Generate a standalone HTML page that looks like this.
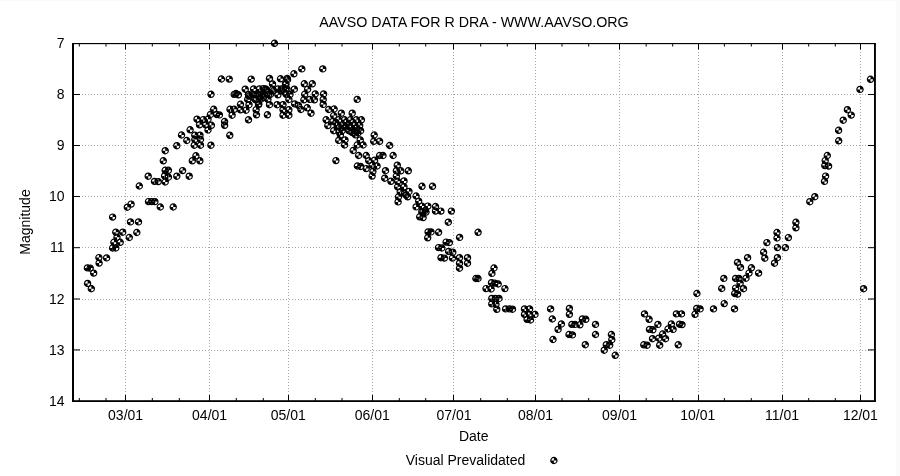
<!DOCTYPE html>
<html><head><meta charset="utf-8"><style>html,body{margin:0;padding:0;background:#fff;overflow:hidden}svg{display:block;will-change:transform}</style></head>
<body><svg width="900" height="476" viewBox="0 0 900 476">
<rect x="0" y="0" width="900" height="476" fill="#fff"/><rect x="0" y="0" width="900" height="1" fill="#fafafa"/><rect x="896" y="0" width="4" height="476" fill="#fafafa"/><path d="M125.5 43V401 M209.5 43V401 M288.5 43V401 M372.5 43V401 M453.5 43V401 M535.5 43V401 M619.5 43V401 M698.5 43V401 M782.5 43V401 M860.5 43V401 M73 94.5H875 M73 145.5H875 M73 196.5H875 M73 247.5H875 M73 299.5H875 M73 350.5H875" stroke="#a8a8a8" stroke-width="1" stroke-dasharray="1 2" fill="none"/><path d="M125.5 401v-6M125.5 43.5v6 M209.5 401v-6M209.5 43.5v6 M288.5 401v-6M288.5 43.5v6 M372.5 401v-6M372.5 43.5v6 M453.5 401v-6M453.5 43.5v6 M535.5 401v-6M535.5 43.5v6 M619.5 401v-6M619.5 43.5v6 M698.5 401v-6M698.5 43.5v6 M782.5 401v-6M782.5 43.5v6 M860.5 401v-6M860.5 43.5v6 M79.3 401v-3M79.3 43.5v3 M106.0 401v-3M106.0 43.5v3 M152.3 401v-3M152.3 43.5v3 M179.3 401v-3M179.3 43.5v3 M236.3 401v-3M236.3 43.5v3 M263.3 401v-3M263.3 43.5v3 M315.3 401v-3M315.3 43.5v3 M342.0 401v-3M342.0 43.5v3 M399.3 401v-3M399.3 43.5v3 M425.7 401v-3M425.7 43.5v3 M480.7 401v-3M480.7 43.5v3 M507.3 401v-3M507.3 43.5v3 M562.0 401v-3M562.0 43.5v3 M588.7 401v-3M588.7 43.5v3 M646.2 401v-3M646.2 43.5v3 M672.7 401v-3M672.7 43.5v3 M724.4 401v-3M724.4 43.5v3 M751.3 401v-3M751.3 43.5v3 M808.7 401v-3M808.7 43.5v3 M835.3 401v-3M835.3 43.5v3 M73 94.5h7M875 94.5h-7 M73 145.5h7M875 145.5h-7 M73 196.5h7M875 196.5h-7 M73 247.7h7M875 247.7h-7 M73 299.0h7M875 299.0h-7 M73 349.9h7M875 349.9h-7" stroke="#000" stroke-width="1" fill="none"/><rect x="72" y="43" width="804" height="1.15" fill="#000"/><rect x="72" y="400.2" width="804" height="1.8" fill="#000"/><rect x="72" y="43" width="2" height="359" fill="#000"/><rect x="874" y="43" width="1.9" height="359" fill="#000"/><g font-family="Liberation Sans, sans-serif" fill="#000"><text x="474" y="26.7" text-anchor="middle" font-size="14.25">AAVSO DATA FOR R DRA - WWW.AAVSO.ORG</text><text x="64.6" y="48.0" text-anchor="end" font-size="14">7</text><text x="64.6" y="99.1" text-anchor="end" font-size="14">8</text><text x="64.6" y="150.1" text-anchor="end" font-size="14">9</text><text x="64.6" y="201.1" text-anchor="end" font-size="14">10</text><text x="64.6" y="252.3" text-anchor="end" font-size="14">11</text><text x="64.6" y="303.6" text-anchor="end" font-size="14">12</text><text x="64.6" y="354.5" text-anchor="end" font-size="14">13</text><text x="64.6" y="405.6" text-anchor="end" font-size="14">14</text><text x="125.6" y="420.2" text-anchor="middle" font-size="14">03/01</text><text x="209.6" y="420.2" text-anchor="middle" font-size="14">04/01</text><text x="288.3" y="420.2" text-anchor="middle" font-size="14">05/01</text><text x="372.3" y="420.2" text-anchor="middle" font-size="14">06/01</text><text x="454.0" y="420.2" text-anchor="middle" font-size="14">07/01</text><text x="535.5" y="420.2" text-anchor="middle" font-size="14">08/01</text><text x="619.6" y="420.2" text-anchor="middle" font-size="14">09/01</text><text x="697.7" y="420.2" text-anchor="middle" font-size="14">10/01</text><text x="782.0" y="420.2" text-anchor="middle" font-size="14">11/01</text><text x="860.4" y="420.2" text-anchor="middle" font-size="14">12/01</text><text x="473.7" y="441.3" text-anchor="middle" font-size="14">Date</text><text transform="translate(29.6 222) rotate(-90)" text-anchor="middle" font-size="14">Magnitude</text><text x="525.3" y="465.3" text-anchor="end" font-size="14">Visual Prevalidated</text></g><defs><symbol id="m" viewBox="-5 -5 10 10" overflow="visible"><circle r="3.1" fill="none" stroke="#000" stroke-width="1.2"/><path d="M0 0V-3.1A3.1 3.1 0 0 1 3.1 0Z M0 0V3.1A3.1 3.1 0 0 1 -3.1 0Z" fill="#000"/></symbol></defs><g><use href="#m" x="82.6" y="278.4" width="10" height="10"/><use href="#m" x="86.3" y="283.7" width="10" height="10"/><use href="#m" x="82.4" y="262.9" width="10" height="10"/><use href="#m" x="85.2" y="263.1" width="10" height="10"/><use href="#m" x="88.7" y="268.1" width="10" height="10"/><use href="#m" x="93.9" y="252.6" width="10" height="10"/><use href="#m" x="94.1" y="258.1" width="10" height="10"/><use href="#m" x="101.6" y="252.9" width="10" height="10"/><use href="#m" x="107.6" y="212.1" width="10" height="10"/><use href="#m" x="122.3" y="202.2" width="10" height="10"/><use href="#m" x="126.1" y="199.1" width="10" height="10"/><use href="#m" x="143.5" y="196.6" width="10" height="10"/><use href="#m" x="146.7" y="196.6" width="10" height="10"/><use href="#m" x="149.9" y="196.6" width="10" height="10"/><use href="#m" x="155.3" y="202.0" width="10" height="10"/><use href="#m" x="125.5" y="216.9" width="10" height="10"/><use href="#m" x="133.5" y="216.9" width="10" height="10"/><use href="#m" x="110.8" y="227.2" width="10" height="10"/><use href="#m" x="117.7" y="227.2" width="10" height="10"/><use href="#m" x="131.8" y="227.5" width="10" height="10"/><use href="#m" x="124.3" y="232.5" width="10" height="10"/><use href="#m" x="112.0" y="232.2" width="10" height="10"/><use href="#m" x="115.2" y="237.3" width="10" height="10"/><use href="#m" x="108.9" y="237.3" width="10" height="10"/><use href="#m" x="107.6" y="243.0" width="10" height="10"/><use href="#m" x="110.8" y="243.0" width="10" height="10"/><use href="#m" x="134.3" y="181.0" width="10" height="10"/><use href="#m" x="143.2" y="171.2" width="10" height="10"/><use href="#m" x="149.5" y="176.4" width="10" height="10"/><use href="#m" x="153.3" y="176.6" width="10" height="10"/><use href="#m" x="160.2" y="177.0" width="10" height="10"/><use href="#m" x="160.2" y="165.3" width="10" height="10"/><use href="#m" x="163.4" y="165.3" width="10" height="10"/><use href="#m" x="159.6" y="170.9" width="10" height="10"/><use href="#m" x="163.4" y="172.2" width="10" height="10"/><use href="#m" x="158.3" y="155.8" width="10" height="10"/><use href="#m" x="160.2" y="145.7" width="10" height="10"/><use href="#m" x="171.8" y="140.7" width="10" height="10"/><use href="#m" x="171.8" y="171.2" width="10" height="10"/><use href="#m" x="177.6" y="165.6" width="10" height="10"/><use href="#m" x="184.2" y="171.2" width="10" height="10"/><use href="#m" x="187.3" y="155.8" width="10" height="10"/><use href="#m" x="190.9" y="150.8" width="10" height="10"/><use href="#m" x="194.9" y="155.8" width="10" height="10"/><use href="#m" x="185.1" y="124.8" width="10" height="10"/><use href="#m" x="181.8" y="135.5" width="10" height="10"/><use href="#m" x="176.5" y="130.0" width="10" height="10"/><use href="#m" x="189.3" y="140.2" width="10" height="10"/><use href="#m" x="195.5" y="140.2" width="10" height="10"/><use href="#m" x="205.9" y="140.2" width="10" height="10"/><use href="#m" x="189.8" y="130.2" width="10" height="10"/><use href="#m" x="195.0" y="130.2" width="10" height="10"/><use href="#m" x="189.8" y="134.5" width="10" height="10"/><use href="#m" x="195.5" y="134.5" width="10" height="10"/><use href="#m" x="192.0" y="114.2" width="10" height="10"/><use href="#m" x="194.5" y="119.8" width="10" height="10"/><use href="#m" x="198.3" y="114.6" width="10" height="10"/><use href="#m" x="200.7" y="119.8" width="10" height="10"/><use href="#m" x="203.0" y="114.2" width="10" height="10"/><use href="#m" x="206.4" y="120.3" width="10" height="10"/><use href="#m" x="203.0" y="125.0" width="10" height="10"/><use href="#m" x="205.4" y="109.5" width="10" height="10"/><use href="#m" x="208.7" y="104.3" width="10" height="10"/><use href="#m" x="211.6" y="109.5" width="10" height="10"/><use href="#m" x="214.4" y="109.9" width="10" height="10"/><use href="#m" x="219.6" y="116.5" width="10" height="10"/><use href="#m" x="219.6" y="120.3" width="10" height="10"/><use href="#m" x="224.8" y="130.3" width="10" height="10"/><use href="#m" x="224.2" y="74.1" width="10" height="10"/><use href="#m" x="246.2" y="74.1" width="10" height="10"/><use href="#m" x="264.5" y="73.4" width="10" height="10"/><use href="#m" x="275.5" y="73.8" width="10" height="10"/><use href="#m" x="282.2" y="73.4" width="10" height="10"/><use href="#m" x="288.9" y="68.8" width="10" height="10"/><use href="#m" x="240.2" y="84.2" width="10" height="10"/><use href="#m" x="248.6" y="83.9" width="10" height="10"/><use href="#m" x="254.5" y="83.9" width="10" height="10"/><use href="#m" x="260.8" y="83.9" width="10" height="10"/><use href="#m" x="267.5" y="78.9" width="10" height="10"/><use href="#m" x="267.5" y="84.3" width="10" height="10"/><use href="#m" x="272.9" y="83.9" width="10" height="10"/><use href="#m" x="280.5" y="78.9" width="10" height="10"/><use href="#m" x="280.5" y="83.9" width="10" height="10"/><use href="#m" x="289.3" y="84.2" width="10" height="10"/><use href="#m" x="229.2" y="89.4" width="10" height="10"/><use href="#m" x="233.4" y="89.8" width="10" height="10"/><use href="#m" x="243.5" y="89.4" width="10" height="10"/><use href="#m" x="250.3" y="89.4" width="10" height="10"/><use href="#m" x="257.0" y="89.4" width="10" height="10"/><use href="#m" x="263.7" y="89.8" width="10" height="10"/><use href="#m" x="272.9" y="89.8" width="10" height="10"/><use href="#m" x="281.3" y="89.4" width="10" height="10"/><use href="#m" x="242.7" y="94.4" width="10" height="10"/><use href="#m" x="249.4" y="93.6" width="10" height="10"/><use href="#m" x="256.1" y="94.0" width="10" height="10"/><use href="#m" x="262.9" y="94.4" width="10" height="10"/><use href="#m" x="283.9" y="94.4" width="10" height="10"/><use href="#m" x="225.0" y="104.3" width="10" height="10"/><use href="#m" x="229.2" y="104.3" width="10" height="10"/><use href="#m" x="227.1" y="110.2" width="10" height="10"/><use href="#m" x="235.5" y="99.3" width="10" height="10"/><use href="#m" x="235.5" y="104.8" width="10" height="10"/><use href="#m" x="241.0" y="105.2" width="10" height="10"/><use href="#m" x="244.0" y="99.7" width="10" height="10"/><use href="#m" x="243.5" y="114.8" width="10" height="10"/><use href="#m" x="251.1" y="104.8" width="10" height="10"/><use href="#m" x="251.5" y="109.8" width="10" height="10"/><use href="#m" x="253.6" y="99.7" width="10" height="10"/><use href="#m" x="262.4" y="109.8" width="10" height="10"/><use href="#m" x="264.5" y="99.7" width="10" height="10"/><use href="#m" x="272.1" y="99.7" width="10" height="10"/><use href="#m" x="278.0" y="99.7" width="10" height="10"/><use href="#m" x="278.0" y="104.8" width="10" height="10"/><use href="#m" x="283.9" y="104.8" width="10" height="10"/><use href="#m" x="278.0" y="110.2" width="10" height="10"/><use href="#m" x="283.9" y="110.2" width="10" height="10"/><use href="#m" x="289.7" y="98.9" width="10" height="10"/><use href="#m" x="296.8" y="63.9" width="10" height="10"/><use href="#m" x="317.8" y="63.9" width="10" height="10"/><use href="#m" x="269.5" y="38.3" width="10" height="10"/><use href="#m" x="299.3" y="78.8" width="10" height="10"/><use href="#m" x="307.3" y="78.8" width="10" height="10"/><use href="#m" x="302.6" y="84.3" width="10" height="10"/><use href="#m" x="299.7" y="89.3" width="10" height="10"/><use href="#m" x="310.2" y="88.9" width="10" height="10"/><use href="#m" x="298.9" y="94.8" width="10" height="10"/><use href="#m" x="304.7" y="94.4" width="10" height="10"/><use href="#m" x="309.4" y="94.8" width="10" height="10"/><use href="#m" x="318.6" y="88.9" width="10" height="10"/><use href="#m" x="318.2" y="94.4" width="10" height="10"/><use href="#m" x="318.2" y="99.4" width="10" height="10"/><use href="#m" x="352.2" y="94.4" width="10" height="10"/><use href="#m" x="295.9" y="104.5" width="10" height="10"/><use href="#m" x="302.2" y="102.8" width="10" height="10"/><use href="#m" x="306.0" y="108.2" width="10" height="10"/><use href="#m" x="323.7" y="104.5" width="10" height="10"/><use href="#m" x="329.1" y="104.0" width="10" height="10"/><use href="#m" x="336.3" y="108.2" width="10" height="10"/><use href="#m" x="347.2" y="108.2" width="10" height="10"/><use href="#m" x="328.7" y="110.6" width="10" height="10"/><use href="#m" x="321.1" y="114.8" width="10" height="10"/><use href="#m" x="322.8" y="120.6" width="10" height="10"/><use href="#m" x="328.7" y="125.7" width="10" height="10"/><use href="#m" x="327.9" y="116.4" width="10" height="10"/><use href="#m" x="333.7" y="114.8" width="10" height="10"/><use href="#m" x="332.1" y="120.6" width="10" height="10"/><use href="#m" x="339.6" y="114.8" width="10" height="10"/><use href="#m" x="337.9" y="120.6" width="10" height="10"/><use href="#m" x="345.5" y="114.8" width="10" height="10"/><use href="#m" x="343.8" y="120.6" width="10" height="10"/><use href="#m" x="351.4" y="114.8" width="10" height="10"/><use href="#m" x="349.7" y="120.6" width="10" height="10"/><use href="#m" x="356.4" y="114.8" width="10" height="10"/><use href="#m" x="354.7" y="120.6" width="10" height="10"/><use href="#m" x="337.1" y="125.7" width="10" height="10"/><use href="#m" x="343.8" y="125.7" width="10" height="10"/><use href="#m" x="349.7" y="125.7" width="10" height="10"/><use href="#m" x="355.6" y="125.7" width="10" height="10"/><use href="#m" x="335.4" y="129.9" width="10" height="10"/><use href="#m" x="350.5" y="129.9" width="10" height="10"/><use href="#m" x="333.7" y="135.4" width="10" height="10"/><use href="#m" x="340.0" y="134.9" width="10" height="10"/><use href="#m" x="355.2" y="134.9" width="10" height="10"/><use href="#m" x="339.6" y="140.0" width="10" height="10"/><use href="#m" x="352.2" y="140.0" width="10" height="10"/><use href="#m" x="358.1" y="140.0" width="10" height="10"/><use href="#m" x="368.7" y="136.3" width="10" height="10"/><use href="#m" x="374.6" y="136.3" width="10" height="10"/><use href="#m" x="384.7" y="140.5" width="10" height="10"/><use href="#m" x="348.2" y="145.5" width="10" height="10"/><use href="#m" x="330.9" y="155.6" width="10" height="10"/><use href="#m" x="353.6" y="150.5" width="10" height="10"/><use href="#m" x="361.2" y="150.5" width="10" height="10"/><use href="#m" x="374.6" y="150.5" width="10" height="10"/><use href="#m" x="378.0" y="150.5" width="10" height="10"/><use href="#m" x="388.1" y="150.5" width="10" height="10"/><use href="#m" x="363.7" y="155.6" width="10" height="10"/><use href="#m" x="369.6" y="155.2" width="10" height="10"/><use href="#m" x="352.4" y="161.0" width="10" height="10"/><use href="#m" x="355.7" y="161.5" width="10" height="10"/><use href="#m" x="361.2" y="163.6" width="10" height="10"/><use href="#m" x="367.1" y="160.2" width="10" height="10"/><use href="#m" x="372.1" y="161.0" width="10" height="10"/><use href="#m" x="367.9" y="166.5" width="10" height="10"/><use href="#m" x="367.1" y="171.1" width="10" height="10"/><use href="#m" x="380.5" y="165.7" width="10" height="10"/><use href="#m" x="379.7" y="173.2" width="10" height="10"/><use href="#m" x="392.3" y="160.2" width="10" height="10"/><use href="#m" x="391.4" y="165.7" width="10" height="10"/><use href="#m" x="391.4" y="171.1" width="10" height="10"/><use href="#m" x="216.4" y="74.0" width="10" height="10"/><use href="#m" x="206.0" y="89.3" width="10" height="10"/><use href="#m" x="385.9" y="176.3" width="10" height="10"/><use href="#m" x="392.6" y="176.3" width="10" height="10"/><use href="#m" x="399.0" y="175.9" width="10" height="10"/><use href="#m" x="392.6" y="181.8" width="10" height="10"/><use href="#m" x="399.0" y="181.8" width="10" height="10"/><use href="#m" x="395.2" y="186.8" width="10" height="10"/><use href="#m" x="404.0" y="186.4" width="10" height="10"/><use href="#m" x="401.1" y="190.2" width="10" height="10"/><use href="#m" x="402.7" y="191.8" width="10" height="10"/><use href="#m" x="393.5" y="191.8" width="10" height="10"/><use href="#m" x="393.1" y="196.9" width="10" height="10"/><use href="#m" x="417.0" y="181.3" width="10" height="10"/><use href="#m" x="427.5" y="181.3" width="10" height="10"/><use href="#m" x="411.1" y="191.0" width="10" height="10"/><use href="#m" x="413.7" y="196.1" width="10" height="10"/><use href="#m" x="411.1" y="201.9" width="10" height="10"/><use href="#m" x="417.0" y="201.1" width="10" height="10"/><use href="#m" x="422.9" y="201.1" width="10" height="10"/><use href="#m" x="430.5" y="201.5" width="10" height="10"/><use href="#m" x="430.5" y="206.1" width="10" height="10"/><use href="#m" x="435.9" y="206.1" width="10" height="10"/><use href="#m" x="446.4" y="206.1" width="10" height="10"/><use href="#m" x="417.9" y="207.0" width="10" height="10"/><use href="#m" x="420.4" y="205.3" width="10" height="10"/><use href="#m" x="416.8" y="206.7" width="10" height="10"/><use href="#m" x="421.0" y="207.1" width="10" height="10"/><use href="#m" x="414.7" y="211.8" width="10" height="10"/><use href="#m" x="418.1" y="212.6" width="10" height="10"/><use href="#m" x="443.3" y="217.2" width="10" height="10"/><use href="#m" x="423.1" y="226.9" width="10" height="10"/><use href="#m" x="426.0" y="226.9" width="10" height="10"/><use href="#m" x="433.6" y="227.3" width="10" height="10"/><use href="#m" x="422.7" y="232.8" width="10" height="10"/><use href="#m" x="454.6" y="232.4" width="10" height="10"/><use href="#m" x="473.1" y="227.3" width="10" height="10"/><use href="#m" x="441.1" y="237.1" width="10" height="10"/><use href="#m" x="444.4" y="237.6" width="10" height="10"/><use href="#m" x="433.5" y="242.6" width="10" height="10"/><use href="#m" x="436.8" y="243.0" width="10" height="10"/><use href="#m" x="443.6" y="246.4" width="10" height="10"/><use href="#m" x="447.8" y="247.2" width="10" height="10"/><use href="#m" x="436.0" y="252.7" width="10" height="10"/><use href="#m" x="439.4" y="253.1" width="10" height="10"/><use href="#m" x="447.4" y="253.1" width="10" height="10"/><use href="#m" x="454.5" y="252.7" width="10" height="10"/><use href="#m" x="454.5" y="258.2" width="10" height="10"/><use href="#m" x="454.5" y="263.2" width="10" height="10"/><use href="#m" x="462.5" y="252.7" width="10" height="10"/><use href="#m" x="462.5" y="258.2" width="10" height="10"/><use href="#m" x="489.0" y="263.0" width="10" height="10"/><use href="#m" x="486.9" y="268.4" width="10" height="10"/><use href="#m" x="470.9" y="273.5" width="10" height="10"/><use href="#m" x="473.0" y="273.5" width="10" height="10"/><use href="#m" x="486.5" y="277.7" width="10" height="10"/><use href="#m" x="489.8" y="278.1" width="10" height="10"/><use href="#m" x="493.2" y="279.0" width="10" height="10"/><use href="#m" x="481.0" y="283.6" width="10" height="10"/><use href="#m" x="486.1" y="284.0" width="10" height="10"/><use href="#m" x="499.9" y="283.6" width="10" height="10"/><use href="#m" x="486.8" y="293.4" width="10" height="10"/><use href="#m" x="490.5" y="293.4" width="10" height="10"/><use href="#m" x="494.0" y="293.4" width="10" height="10"/><use href="#m" x="486.8" y="298.9" width="10" height="10"/><use href="#m" x="491.0" y="299.3" width="10" height="10"/><use href="#m" x="491.8" y="304.3" width="10" height="10"/><use href="#m" x="500.6" y="303.9" width="10" height="10"/><use href="#m" x="504.4" y="303.9" width="10" height="10"/><use href="#m" x="519.5" y="303.9" width="10" height="10"/><use href="#m" x="524.6" y="303.9" width="10" height="10"/><use href="#m" x="519.5" y="309.4" width="10" height="10"/><use href="#m" x="524.6" y="309.4" width="10" height="10"/><use href="#m" x="522.1" y="314.4" width="10" height="10"/><use href="#m" x="530.0" y="309.4" width="10" height="10"/><use href="#m" x="545.6" y="303.9" width="10" height="10"/><use href="#m" x="547.3" y="314.0" width="10" height="10"/><use href="#m" x="564.4" y="303.4" width="10" height="10"/><use href="#m" x="564.4" y="309.3" width="10" height="10"/><use href="#m" x="556.4" y="319.0" width="10" height="10"/><use href="#m" x="553.1" y="324.4" width="10" height="10"/><use href="#m" x="548.0" y="334.5" width="10" height="10"/><use href="#m" x="566.9" y="319.4" width="10" height="10"/><use href="#m" x="569.9" y="319.4" width="10" height="10"/><use href="#m" x="574.9" y="319.8" width="10" height="10"/><use href="#m" x="577.4" y="313.9" width="10" height="10"/><use href="#m" x="580.8" y="314.3" width="10" height="10"/><use href="#m" x="564.0" y="329.5" width="10" height="10"/><use href="#m" x="567.4" y="329.9" width="10" height="10"/><use href="#m" x="590.5" y="319.4" width="10" height="10"/><use href="#m" x="590.5" y="329.5" width="10" height="10"/><use href="#m" x="606.4" y="329.5" width="10" height="10"/><use href="#m" x="580.3" y="339.7" width="10" height="10"/><use href="#m" x="606.8" y="334.7" width="10" height="10"/><use href="#m" x="601.3" y="339.7" width="10" height="10"/><use href="#m" x="604.7" y="340.2" width="10" height="10"/><use href="#m" x="599.2" y="345.2" width="10" height="10"/><use href="#m" x="610.2" y="350.3" width="10" height="10"/><use href="#m" x="639.5" y="308.9" width="10" height="10"/><use href="#m" x="644.1" y="314.3" width="10" height="10"/><use href="#m" x="652.9" y="319.4" width="10" height="10"/><use href="#m" x="644.5" y="324.4" width="10" height="10"/><use href="#m" x="647.9" y="324.8" width="10" height="10"/><use href="#m" x="657.6" y="329.0" width="10" height="10"/><use href="#m" x="663.0" y="324.0" width="10" height="10"/><use href="#m" x="668.1" y="324.4" width="10" height="10"/><use href="#m" x="666.4" y="319.0" width="10" height="10"/><use href="#m" x="671.4" y="308.9" width="10" height="10"/><use href="#m" x="647.5" y="333.7" width="10" height="10"/><use href="#m" x="653.8" y="333.2" width="10" height="10"/><use href="#m" x="660.5" y="333.7" width="10" height="10"/><use href="#m" x="674.5" y="319.2" width="10" height="10"/><use href="#m" x="677.0" y="319.6" width="10" height="10"/><use href="#m" x="654.7" y="340.2" width="10" height="10"/><use href="#m" x="638.8" y="339.8" width="10" height="10"/><use href="#m" x="642.1" y="340.2" width="10" height="10"/><use href="#m" x="673.2" y="339.8" width="10" height="10"/><use href="#m" x="691.9" y="288.5" width="10" height="10"/><use href="#m" x="718.8" y="273.4" width="10" height="10"/><use href="#m" x="716.7" y="283.5" width="10" height="10"/><use href="#m" x="730.6" y="273.4" width="10" height="10"/><use href="#m" x="734.0" y="273.4" width="10" height="10"/><use href="#m" x="730.6" y="283.1" width="10" height="10"/><use href="#m" x="729.7" y="288.5" width="10" height="10"/><use href="#m" x="719.2" y="298.6" width="10" height="10"/><use href="#m" x="691.7" y="303.4" width="10" height="10"/><use href="#m" x="695.1" y="303.9" width="10" height="10"/><use href="#m" x="690.0" y="309.3" width="10" height="10"/><use href="#m" x="708.5" y="303.9" width="10" height="10"/><use href="#m" x="729.5" y="303.9" width="10" height="10"/><use href="#m" x="732.5" y="257.4" width="10" height="10"/><use href="#m" x="735.5" y="262.4" width="10" height="10"/><use href="#m" x="742.6" y="252.7" width="10" height="10"/><use href="#m" x="746.4" y="262.8" width="10" height="10"/><use href="#m" x="761.9" y="237.6" width="10" height="10"/><use href="#m" x="758.6" y="247.3" width="10" height="10"/><use href="#m" x="759.8" y="253.2" width="10" height="10"/><use href="#m" x="772.0" y="227.5" width="10" height="10"/><use href="#m" x="772.0" y="233.0" width="10" height="10"/><use href="#m" x="772.4" y="242.6" width="10" height="10"/><use href="#m" x="780.4" y="242.6" width="10" height="10"/><use href="#m" x="783.4" y="232.6" width="10" height="10"/><use href="#m" x="772.4" y="252.7" width="10" height="10"/><use href="#m" x="769.5" y="258.2" width="10" height="10"/><use href="#m" x="744.0" y="268.1" width="10" height="10"/><use href="#m" x="741.0" y="273.2" width="10" height="10"/><use href="#m" x="753.6" y="268.1" width="10" height="10"/><use href="#m" x="735.1" y="278.2" width="10" height="10"/><use href="#m" x="738.5" y="283.7" width="10" height="10"/><use href="#m" x="732.6" y="289.1" width="10" height="10"/><use href="#m" x="809.8" y="191.7" width="10" height="10"/><use href="#m" x="804.8" y="196.7" width="10" height="10"/><use href="#m" x="790.9" y="217.3" width="10" height="10"/><use href="#m" x="790.9" y="222.8" width="10" height="10"/><use href="#m" x="833.7" y="135.8" width="10" height="10"/><use href="#m" x="822.3" y="150.5" width="10" height="10"/><use href="#m" x="820.2" y="155.6" width="10" height="10"/><use href="#m" x="819.8" y="160.6" width="10" height="10"/><use href="#m" x="823.6" y="161.1" width="10" height="10"/><use href="#m" x="820.6" y="171.1" width="10" height="10"/><use href="#m" x="819.5" y="176.4" width="10" height="10"/><use href="#m" x="865.5" y="74.3" width="10" height="10"/><use href="#m" x="855.0" y="84.4" width="10" height="10"/><use href="#m" x="842.4" y="104.7" width="10" height="10"/><use href="#m" x="846.2" y="110.1" width="10" height="10"/><use href="#m" x="838.2" y="115.2" width="10" height="10"/><use href="#m" x="833.6" y="125.3" width="10" height="10"/><use href="#m" x="858.6" y="283.7" width="10" height="10"/><use href="#m" x="168.2" y="202.0" width="10" height="10"/><use href="#m" x="369.2" y="130.0" width="10" height="10"/><use href="#m" x="395.8" y="165.8" width="10" height="10"/><use href="#m" x="403.3" y="165.8" width="10" height="10"/><use href="#m" x="399.5" y="188.5" width="10" height="10"/><use href="#m" x="507.5" y="304.2" width="10" height="10"/><use href="#m" x="525.5" y="315.0" width="10" height="10"/><use href="#m" x="676.5" y="308.9" width="10" height="10"/><use href="#m" x="293.5" y="100.5" width="10" height="10"/><use href="#m" x="282.0" y="84.0" width="10" height="10"/><use href="#m" x="285.0" y="89.5" width="10" height="10"/><use href="#m" x="331.0" y="117.5" width="10" height="10"/><use href="#m" x="336.0" y="123.0" width="10" height="10"/><use href="#m" x="341.0" y="122.0" width="10" height="10"/><use href="#m" x="346.0" y="123.0" width="10" height="10"/><use href="#m" x="352.0" y="123.0" width="10" height="10"/><use href="#m" x="341.0" y="117.5" width="10" height="10"/><use href="#m" x="348.0" y="117.5" width="10" height="10"/><use href="#m" x="334.0" y="127.0" width="10" height="10"/><use href="#m" x="347.0" y="127.5" width="10" height="10"/><use href="#m" x="353.0" y="128.0" width="10" height="10"/><use href="#m" x="258.4" y="83.6" width="10" height="10"/><use href="#m" x="261.5" y="85.6" width="10" height="10"/><use href="#m" x="248.3" y="89.4" width="10" height="10"/><use href="#m" x="254.5" y="90.2" width="10" height="10"/><use href="#m" x="258.4" y="92.6" width="10" height="10"/><use href="#m" x="250.7" y="94.9" width="10" height="10"/><use href="#m" x="253.8" y="98.8" width="10" height="10"/><use href="#m" x="268.5" y="85.6" width="10" height="10"/><use href="#m" x="279.4" y="87.1" width="10" height="10"/><use href="#m" x="281.0" y="79.3" width="10" height="10"/><use href="#m" x="282.5" y="74.7" width="10" height="10"/><use href="#m" x="243.7" y="91.0" width="10" height="10"/><use href="#m" x="276.3" y="84.0" width="10" height="10"/><use href="#m" x="265.4" y="89.4" width="10" height="10"/><use href="#m" x="231.0" y="88.5" width="10" height="10"/><use href="#m" x="548.9" y="455.5" width="10" height="10"/></g>
</svg></body></html>
